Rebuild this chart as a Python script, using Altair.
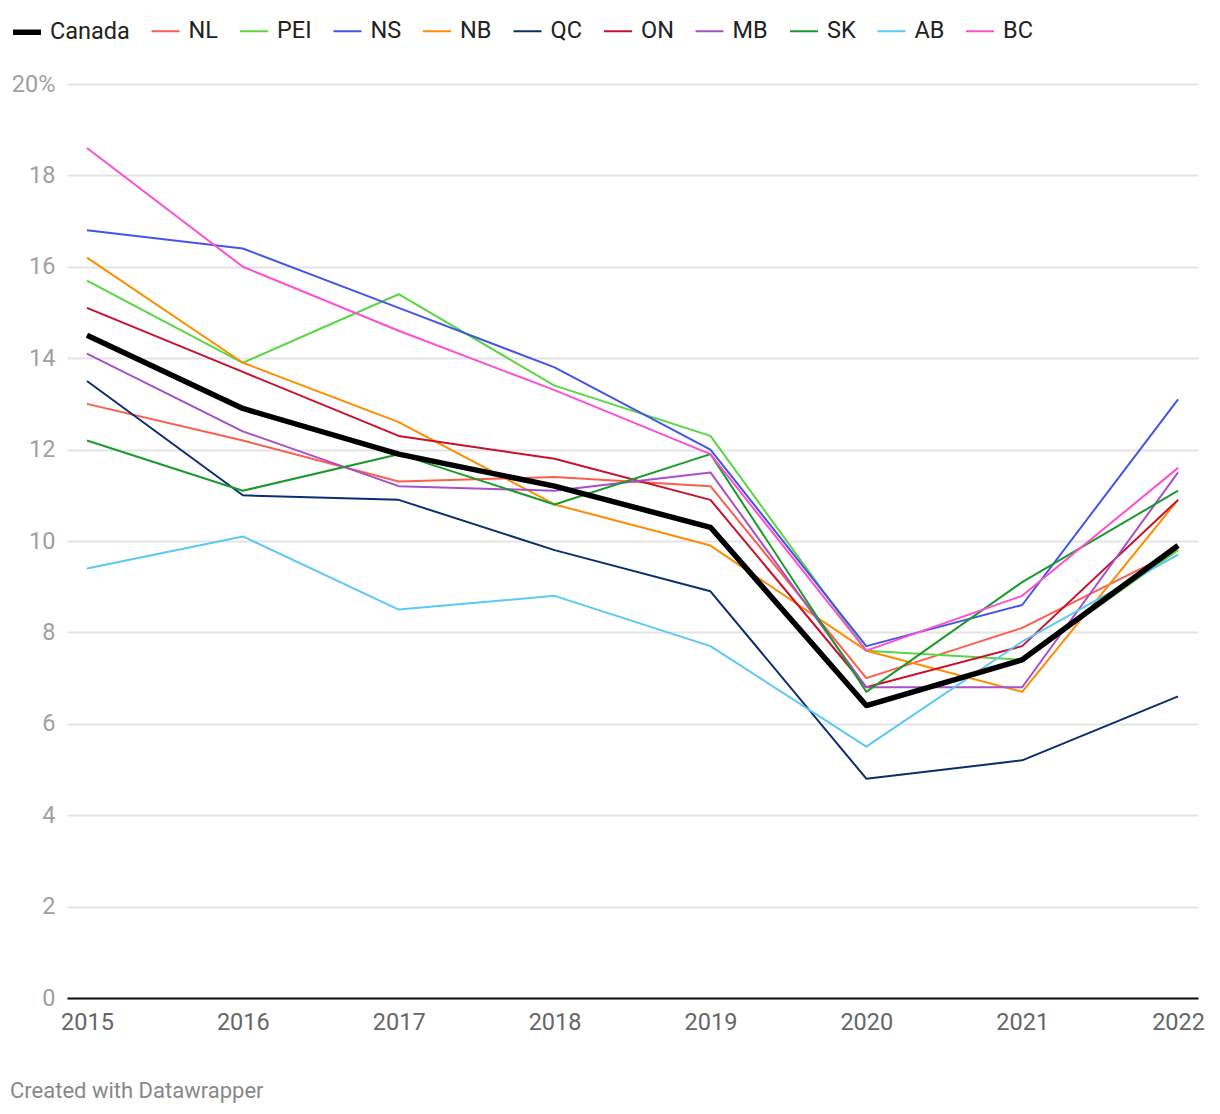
import altair as alt
import pandas as pd

years = [2015, 2016, 2017, 2018, 2019, 2020, 2021, 2022]
regions = ["Canada", "NL", "PEI", "NS", "NB", "QC", "ON", "MB", "SK", "AB", "BC"]
colors = ["#000000", "#ff5d4b", "#5bd543", "#4355e6", "#ff8c00", "#0b2e70",
          "#c8102e", "#a84fc9", "#1a9a2a", "#5bc8f5", "#ff4fd0"]
widths = [5.5, 2, 2, 2, 2, 2, 2, 2, 2, 2, 2]

canada = [14.5, 12.9, 11.9, 11.2, 10.3, 6.4, 7.4, 9.9]
nl = [13.0, 12.2, 11.3, 11.4, 11.2, 7.0, 8.1, 9.8]
pei = [15.7, 13.9, 15.4, 13.4, 12.3, 7.6, 7.4, 9.8]
ns = [16.8, 16.4, 15.1, 13.8, 12.0, 7.7, 8.6, 13.1]
nb = [16.2, 13.9, 12.6, 10.8, 9.9, 7.6, 6.7, 10.9]
qc = [13.5, 11.0, 10.9, 9.8, 8.9, 4.8, 5.2, 6.6]
on = [15.1, 13.7, 12.3, 11.8, 10.9, 6.8, 7.7, 10.9]
mb = [14.1, 12.4, 11.2, 11.1, 11.5, 6.8, 6.8, 11.5]
sk = [12.2, 11.1, 11.9, 10.8, 11.9, 6.7, 9.1, 11.1]
ab = [9.4, 10.1, 8.5, 8.8, 7.7, 5.5, 7.8, 9.7]
bc = [18.6, 16.0, 14.6, 13.3, 11.9, 7.6, 8.8, 11.6]

series = [canada, nl, pei, ns, nb, qc, on, mb, sk, ab, bc]
rows = []
for name, vals in zip(regions, series):
    for y, v in zip(years, vals):
        rows.append({"region": name, "year": y, "value": v})
df = pd.DataFrame(rows)

FONT = "Roboto"
FS = 23.5

x_enc = alt.X("year:Q",
              scale=alt.Scale(domain=[2014.872, 2022.128], nice=False, zero=False),
              axis=alt.Axis(values=years, format="d", title=None, grid=False,
                            ticks=False, domain=True, domainColor="#111111",
                            domainWidth=2, labelFont=FONT, labelFontSize=FS,
                            labelColor="#666666", labelPadding=12))
y_enc = alt.Y("value:Q",
              scale=alt.Scale(domain=[0, 20], nice=False),
              axis=alt.Axis(values=[0, 2, 4, 6, 8, 10, 12, 14, 16, 18, 20],
                            labelExpr="datum.value == 20 ? '20%' : datum.label",
                            title=None, grid=True, gridColor="#e3e3e3", gridWidth=2,
                            ticks=False, domain=False, labelFont=FONT,
                            labelFontSize=FS, labelColor="#a0a0a0", labelPadding=12))
color_enc = alt.Color("region:N", scale=alt.Scale(domain=regions, range=colors),
                      title=None,
                      legend=alt.Legend(orient="none", legendX=-57, legendY=-69,
                                        direction="horizontal", columns=11,
                                        symbolType="stroke", symbolSize=784,
                                        symbolStrokeWidth=2.5,
                                        labelFont=FONT, labelFontSize=FS,
                                        labelColor="#222222", labelOffset=6,
                                        columnPadding=17.5, title=None))
sw_enc = alt.StrokeWidth("region:N",
                         scale=alt.Scale(type="ordinal", domain=regions, range=widths),
                         title=None, legend=None)

base = alt.Chart(df)
others = base.transform_filter("datum.region != 'Canada'").mark_line(
    strokeJoin="round").encode(x=x_enc, y=y_enc, color=color_enc,
                               strokeWidth=sw_enc, detail="region:N")
can = base.transform_filter("datum.region == 'Canada'").mark_line(
    strokeJoin="round").encode(x=x_enc, y=y_enc, color=color_enc,
                               strokeWidth=sw_enc)

chart = alt.layer(others, can).properties(
    width=1131, height=914,
    autosize=alt.AutoSizeParams(type="none"),
    padding={"left": 59, "top": 76, "right": 14, "bottom": 116},
    title=alt.TitleParams("Created with Datawrapper", orient="bottom", anchor="start",
                          frame="group", dx=-57, offset=47, font=FONT, fontSize=22,
                          fontWeight="normal", color="#888888"),
).configure_view(stroke=None)

chart.save("out.html", embed_options={"renderer": "svg", "actions": False})
